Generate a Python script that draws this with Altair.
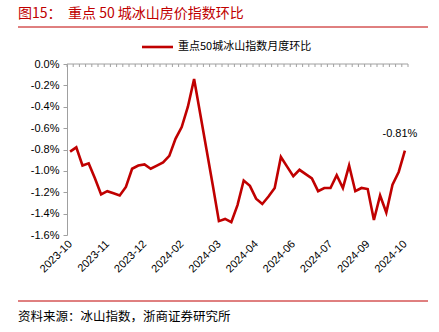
import altair as alt
import pandas as pd

# ---- data ----
x_labels = ["2023-10", "2023-11", "2023-12", "2024-02", "2024-03",
            "2024-04", "2024-06", "2024-07", "2024-09", "2024-10"]
label_step = 6  # one label every 6 weekly points

values = [
    -0.82, -0.78, -0.95, -0.93, -1.07, -1.22, -1.19, -1.21, -1.23, -1.15,
    -0.98, -0.95, -0.94, -0.98, -0.95, -0.92, -0.86, -0.70, -0.59, -0.40,
    -0.14, -0.47, -0.80, -1.13, -1.47, -1.45, -1.48, -1.32, -1.09, -1.14,
    -1.26, -1.31, -1.24, -1.16, -0.87, -0.96, -1.05, -0.99, -1.03, -1.07,
    -1.19, -1.16, -1.16, -1.04, -1.16, -0.95, -1.19, -1.16, -1.17, -1.46,
    -1.23, -1.39, -1.13, -1.01, -0.81,
]
y_ticks = [0.0, -0.2, -0.4, -0.6, -0.8, -1.0, -1.2, -1.4, -1.6]

series_name = "重点50城冰山指数月度环比"
title_prefix = "图15："
title_main = "重点 50 城冰山房价指数环比"
source_text = "资料来源：冰山指数，浙商证券研究所"

# ---- layout ----
W, H = 341, 171
PAD = {"left": 67, "top": 64, "right": 31, "bottom": 97}
RED = "#C00000"
GRAY = "#A0A0A0"
NUM_FONT = "Liberation Sans"
CJK_FONT = "Noto Sans CJK SC"

n = len(values)
df = pd.DataFrame({"x": list(range(n)), "value": values})
xdomain = [-0.5, n - 0.5]
xscale = alt.Scale(domain=xdomain, nice=False, zero=False)
yscale = alt.Scale(domain=[-1.6, 0], nice=False, zero=False)

label_arr = "[" + ",".join(f"'{s}'" for s in x_labels) + "]"

x_axis = alt.Axis(values=[i * label_step for i in range(len(x_labels))],
                  labelExpr=f"{label_arr}[datum.value/{label_step}]",
                  labelAngle=-45, labelAlign="right", labelBaseline="middle",
                  labelPadding=7, labelFontSize=11, labelFont=NUM_FONT,
                  labelColor="#000000", labelOverlap=False, labelFlush=False,
                  domain=False, ticks=False, grid=False, title=None)
y_axis = alt.Axis(values=y_ticks,
                  labelExpr="(datum.value < 0 ? '-' : '') + format(abs(datum.value), '.1f') + '%'",
                  labelFontSize=11, labelFont=NUM_FONT, labelColor="#000000",
                  labelPadding=4, tickSize=4, tickColor=GRAY, domainColor=GRAY,
                  grid=False, title=None)

X = alt.X("x:Q", scale=xscale, axis=x_axis, title=None)
Y = alt.Y("value:Q", scale=yscale, axis=y_axis, title=None)

line = alt.Chart(df).mark_line(color=RED, strokeWidth=2.6).encode(x=X, y=Y)

# top category axis with inward ticks
bounds = pd.DataFrame({"x": [i - 0.5 for i in range(n + 1)]})
top_ticks = alt.Chart(bounds).mark_rule(color=GRAY, strokeWidth=1).encode(
    x=X, y=alt.value(0), y2=alt.value(3))
one = pd.DataFrame({"a": [0]})
top_line = alt.Chart(one).mark_rule(color=GRAY, strokeWidth=1).encode(
    x=alt.value(0), x2=alt.value(W), y=alt.value(0))

# annotation of last value
last = pd.DataFrame({"x": [n - 1], "value": [values[-1]],
                     "label": [f"{values[-1]:.2f}%"]})
annot = alt.Chart(last).mark_text(fontSize=11, font=NUM_FONT, color="#000000",
                                  dy=-17, dx=-5).encode(x=X, y=Y, text="label:N")

# title, legend, footer
t1 = alt.Chart(one).mark_text(align="left", baseline="middle", fontSize=14,
                              font=CJK_FONT, color=RED).encode(
    x=alt.value(-49), y=alt.value(-50), text=alt.value(title_prefix))
t2 = alt.Chart(one).mark_text(align="left", baseline="middle", fontSize=14,
                              font=CJK_FONT, color=RED).encode(
    x=alt.value(1), y=alt.value(-50), text=alt.value(title_main))
t_rule = alt.Chart(one).mark_rule(color=RED, strokeWidth=1).encode(
    x=alt.value(-49), x2=alt.value(361), y=alt.value(-37))
leg_line = alt.Chart(one).mark_rule(color=RED, strokeWidth=2.6).encode(
    x=alt.value(75), x2=alt.value(106), y=alt.value(-17))
leg_text = alt.Chart(one).mark_text(align="left", baseline="middle", fontSize=11,
                                    font=CJK_FONT, color="#000000").encode(
    x=alt.value(111), y=alt.value(-17), text=alt.value(series_name))
f_rule = alt.Chart(one).mark_rule(color=RED, strokeWidth=1).encode(
    x=alt.value(-49), x2=alt.value(361), y=alt.value(237))
f_text = alt.Chart(one).mark_text(align="left", baseline="middle", fontSize=12.5,
                                  font=CJK_FONT, color="#000000").encode(
    x=alt.value(-49), y=alt.value(252.5), text=alt.value(source_text))

chart = alt.layer(line, top_ticks, top_line, annot, t1, t2, t_rule,
                  leg_line, leg_text, f_rule, f_text).properties(
    width=W, height=H, padding=PAD,
    autosize=alt.AutoSizeParams(type="none"),
    background="white",
).configure_view(stroke=None)

chart.save("out.html", embed_options={"renderer": "svg", "actions": False})
